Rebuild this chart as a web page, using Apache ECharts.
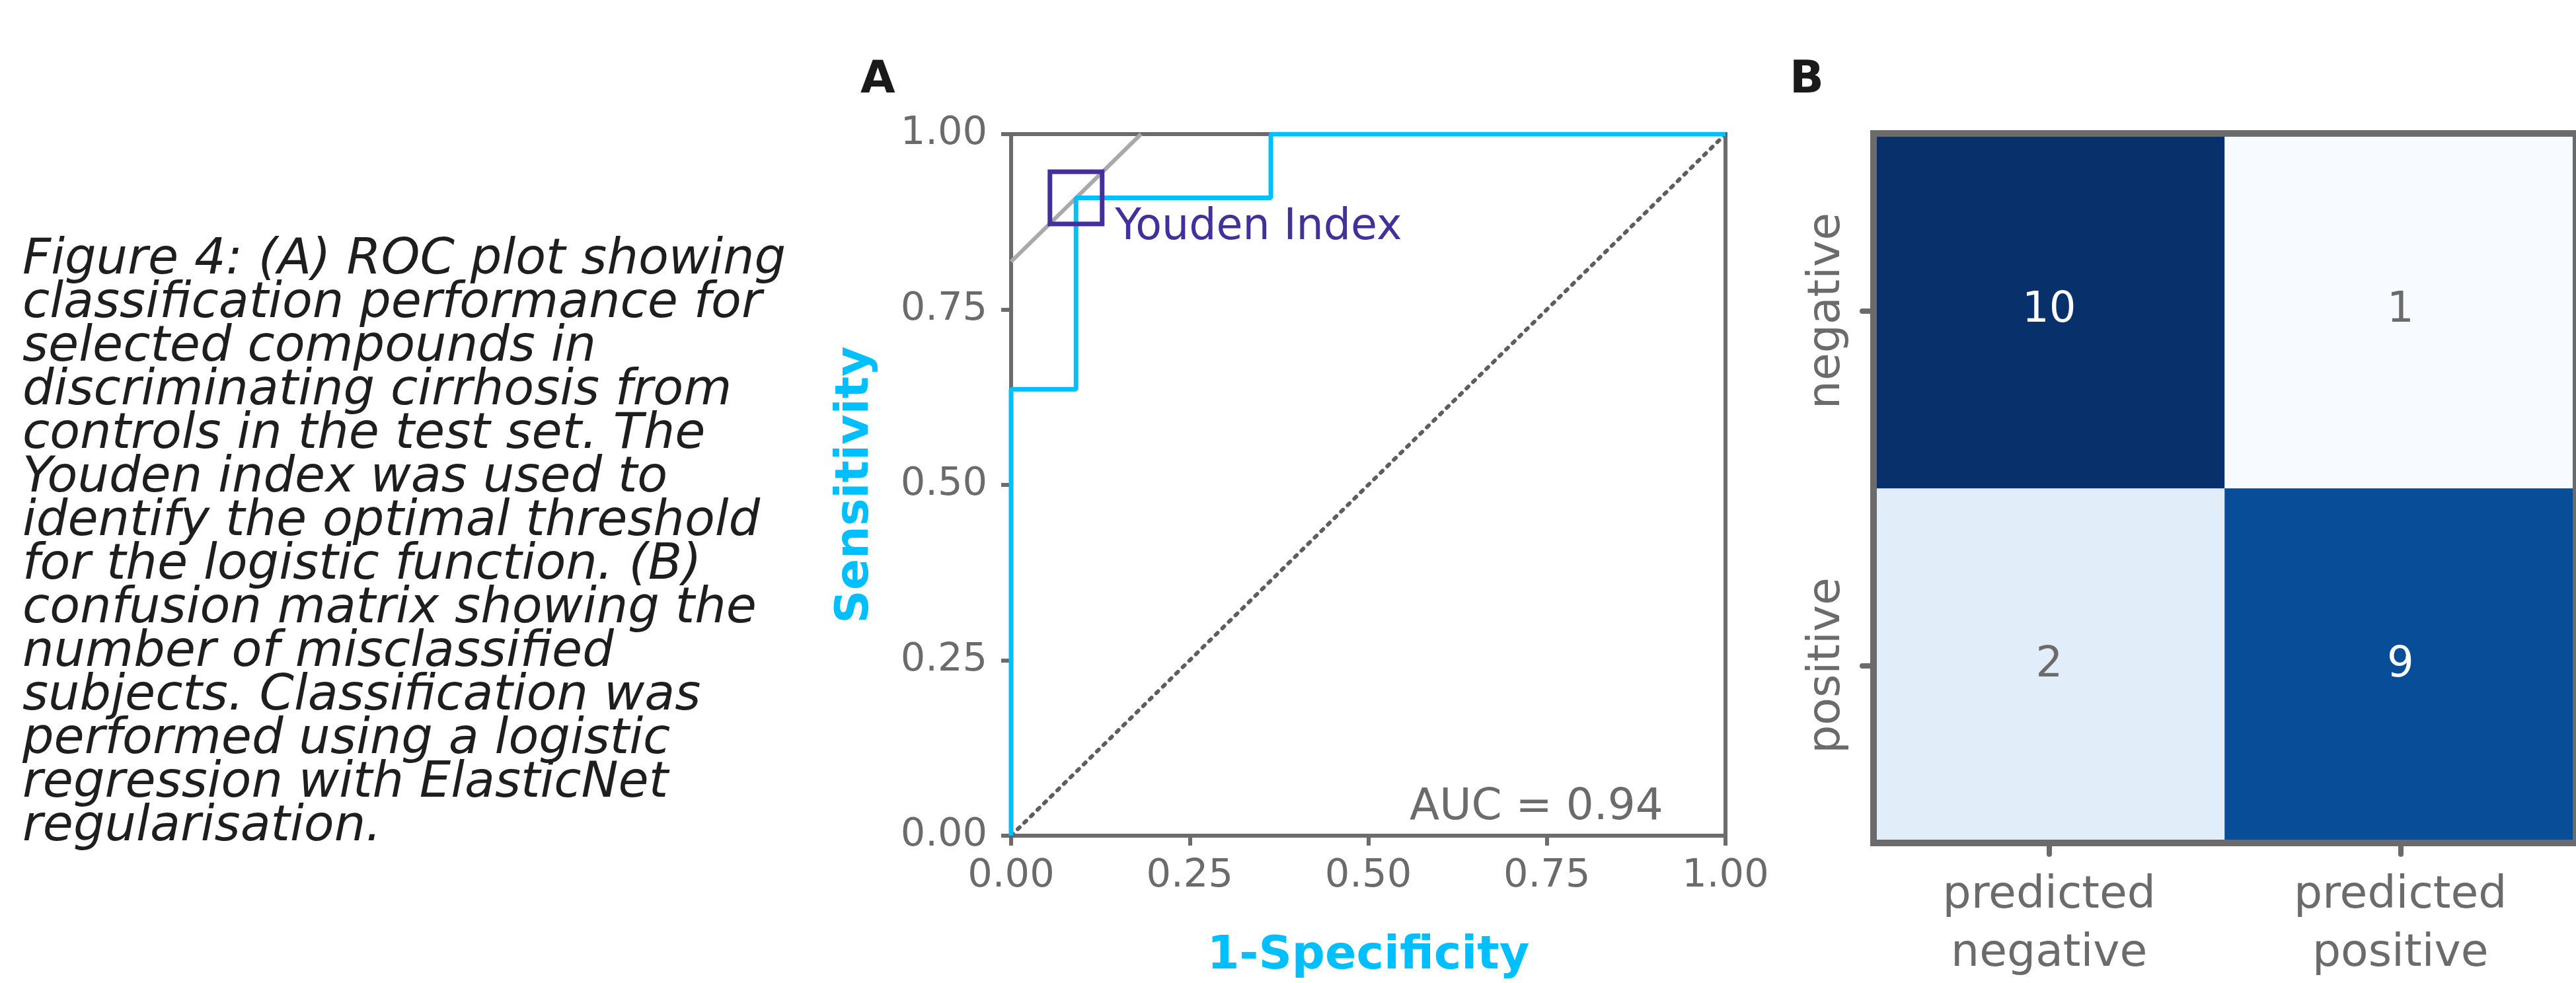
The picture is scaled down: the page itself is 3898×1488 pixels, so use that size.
<!DOCTYPE html>
<html>
<head>
<meta charset="utf-8">
<script src="https://cdn.jsdelivr.net/npm/echarts@6/dist/echarts.min.js"></script>
<style>
  html, body { margin: 0; padding: 0; background: #fff; }
  #main { width: 3898px; height: 1488px; }
</style>
</head>
<body>
<div id="main"></div>
<script>
// ROC curve, panel A (x = 1 - specificity, y = sensitivity)
var rocFpr = [0, 0, 0.0909, 0.0909, 0.3636, 0.3636, 1];
var rocTpr = [0, 0.6364, 0.6364, 0.9091, 0.9091, 1, 1];
var chanceFpr = [0, 1];
var chanceTpr = [0, 1];
var youdenFpr = 0.0909;
var youdenTpr = 0.9091;
var tangentFpr = [0, 0.1818];
var tangentTpr = [0.8182, 1];
var aucLabel = 'AUC = 0.94';

// confusion matrix, panel B
var predLabels = ['predicted\nnegative', 'predicted\npositive'];
var trueLabels = ['positive', 'negative'];   // bottom to top
var countsNegative = [10, 1];                // true negative row
var countsPositive = [2, 9];                 // true positive row
var blues = ['#f7fbff', '#deebf7', '#c6dbef', '#9ecae1', '#6baed6',
             '#4292c6', '#2171b5', '#08519c', '#08306b'];

var captionLines = [
  'Figure 4: (A) ROC plot showing',
  'classification performance for',
  'selected compounds in',
  'discriminating cirrhosis from',
  'controls in the test set. The',
  'Youden index was used to',
  'identify the optimal threshold',
  'for the logistic function. (B)',
  'confusion matrix showing the',
  'number of misclassified',
  'subjects. Classification was',
  'performed using a logistic',
  'regression with ElasticNet',
  'regularisation.'
];

var FONT = 'DejaVu Sans';
var GREY = '#6b6b6b';
var BLUE = '#00BFFF';
var PURPLE = '#44309A';

function pairs(xs, ys) {
  return xs.map(function (x, i) { return [x, ys[i]]; });
}

var heatData = [];
[countsPositive, countsNegative].forEach(function (row, yi) {
  row.forEach(function (v, xi) {
    heatData.push({ value: [xi, yi, v], label: { color: v > 5 ? '#ffffff' : GREY } });
  });
});

var chart = echarts.init(document.getElementById('main'));
chart.setOption({
  animation: false,
  backgroundColor: '#ffffff',
  title: [
    { text: captionLines.join('\n'), left: 34, top: 362, padding: 0,
      textStyle: { fontFamily: FONT, fontStyle: 'italic', fontWeight: 'normal',
                   fontSize: 75, lineHeight: 66, color: '#1e1e1e' } },
    { text: 'A', left: 1302, top: 88, padding: 0,
      textStyle: { fontFamily: FONT, fontWeight: 'bold', fontSize: 68, color: '#1a1a1a' } },
    { text: 'B', left: 2708, top: 88, padding: 0,
      textStyle: { fontFamily: FONT, fontWeight: 'bold', fontSize: 68, color: '#1a1a1a' } },
    { text: aucLabel, left: 2133, top: 1190, padding: 0,
      textStyle: { fontFamily: FONT, fontWeight: 'normal', fontSize: 66, color: GREY } }
  ],
  grid: [
    { left: 1530, top: 203, width: 1081, height: 1077, show: true,
      borderColor: GREY, borderWidth: 6 },
    { left: 2835, top: 202, width: 1082, height: 1084, show: true,
      borderColor: GREY, borderWidth: 10, z: 5 }
  ],
  xAxis: [
    { gridIndex: 0, type: 'value', min: 0, max: 1, interval: 0.25,
      name: '1-Specificity', nameLocation: 'middle', nameGap: 148,
      nameTextStyle: { fontFamily: FONT, fontWeight: 'bold', fontSize: 70, color: BLUE },
      axisLine: { show: false },
      axisTick: { show: true, length: 15, lineStyle: { color: GREY, width: 6 } },
      axisLabel: { fontFamily: FONT, fontSize: 59, color: GREY, margin: 32,
                   formatter: function (v) { return v.toFixed(2); } },
      splitLine: { show: false } },
    { gridIndex: 1, type: 'category', data: predLabels,
      axisLine: { show: false },
      axisTick: { show: true, alignWithLabel: true, length: 17,
                  lineStyle: { color: GREY, width: 8, cap: 'round' } },
      axisLabel: { fontFamily: FONT, fontSize: 68, lineHeight: 88, color: GREY, margin: 36 },
      splitLine: { show: false } }
  ],
  yAxis: [
    { gridIndex: 0, type: 'value', min: 0, max: 1, interval: 0.25,
      name: 'Sensitivity', nameLocation: 'middle', nameGap: 200, nameRotate: 90,
      nameTextStyle: { fontFamily: FONT, fontWeight: 'bold', fontSize: 70, color: BLUE },
      axisLine: { show: false },
      axisTick: { show: true, length: 15, lineStyle: { color: GREY, width: 6 } },
      axisLabel: { fontFamily: FONT, fontSize: 59, color: GREY, margin: 36,
                   formatter: function (v) { return v.toFixed(2); } },
      splitLine: { show: false } },
    { gridIndex: 1, type: 'category', data: trueLabels,
      axisLine: { show: false },
      axisTick: { show: true, alignWithLabel: true, length: 17,
                  lineStyle: { color: GREY, width: 8, cap: 'round' } },
      axisLabel: { fontFamily: FONT, fontSize: 68, color: GREY, rotate: 90, margin: 36 },
      splitLine: { show: false } }
  ],
  visualMap: { show: false, seriesIndex: 4, min: 1, max: 10, inRange: { color: blues } },
  series: [
    { type: 'line', xAxisIndex: 0, yAxisIndex: 0, z: 2, showSymbol: false,
      data: pairs(chanceFpr, chanceTpr),
      lineStyle: { color: '#5e5e5e', width: 6, type: [4, 10], cap: 'round' } },
    { type: 'line', xAxisIndex: 0, yAxisIndex: 0, z: 3, showSymbol: false,
      data: pairs(tangentFpr, tangentTpr),
      lineStyle: { color: '#a9a9a9', width: 6 } },
    { type: 'line', xAxisIndex: 0, yAxisIndex: 0, z: 4, showSymbol: false,
      data: pairs(rocFpr, rocTpr),
      lineStyle: { color: BLUE, width: 7 } },
    { type: 'scatter', xAxisIndex: 0, yAxisIndex: 0, z: 6,
      data: [[youdenFpr, youdenTpr]],
      symbol: 'rect', symbolSize: 79,
      itemStyle: { color: 'rgba(0,0,0,0)', borderColor: PURPLE, borderWidth: 7, opacity: 1 },
      label: { show: true, formatter: 'Youden Index', position: 'right', distance: 16,
               offset: [0, 46], fontFamily: FONT, fontSize: 65, color: PURPLE } },
    { type: 'heatmap', xAxisIndex: 1, yAxisIndex: 1, data: heatData,
      label: { show: true, fontFamily: FONT, fontSize: 64 },
      itemStyle: { borderWidth: 0 } }
  ]
});
</script>
</body>
</html>
